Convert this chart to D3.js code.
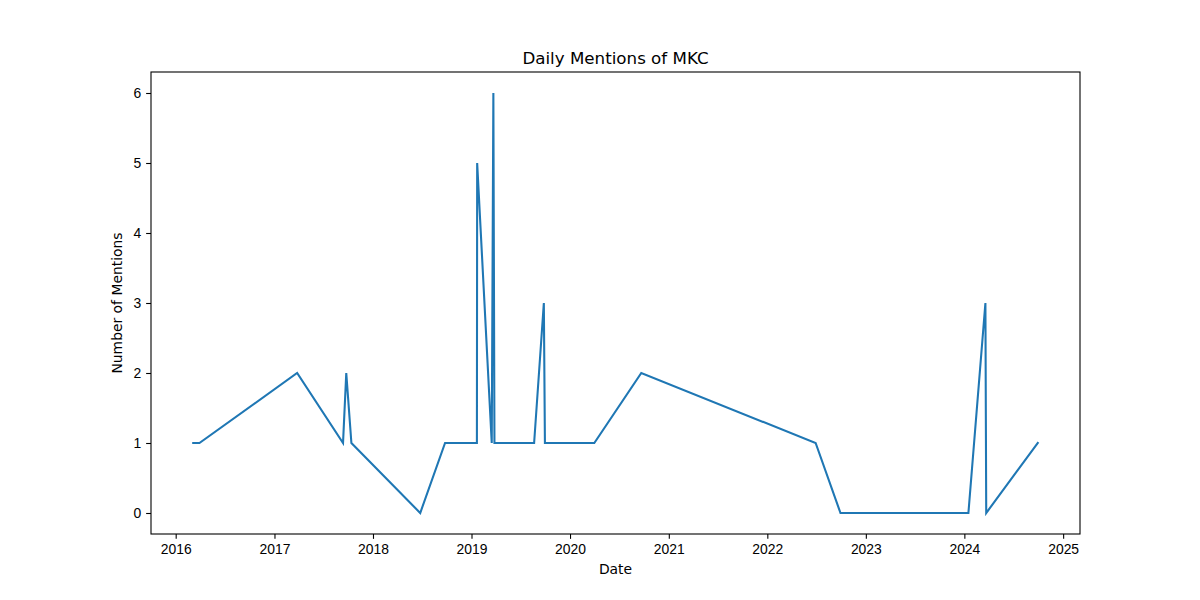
<!DOCTYPE html>
<html>
<head>
<meta charset="utf-8">
<script src="https://cdn.jsdelivr.net/npm/d3@7"></script>
<style>
body { margin: 0; background: #fff; }
svg { font-family: "DejaVu Sans", sans-serif; }
.axis text { font-size: 13.9px; fill: #000; }
.axis path, .axis line { stroke: #000; stroke-width: 1.1px; }
</style>
</head>
<body>
<svg id="chart" width="1200" height="600"></svg>
<script>
// dates and mention counts
const dates = [
  "2016-03-06", "2016-03-29", "2017-03-26", "2017-09-12", "2017-09-24",
  "2017-10-13", "2018-06-25", "2018-09-25", "2019-01-21", "2019-01-22",
  "2019-03-17", "2019-03-23", "2019-03-27", "2019-08-21", "2019-09-26",
  "2019-09-30", "2020-03-31", "2020-09-21", "2022-06-29", "2022-09-29",
  "2024-01-16", "2024-03-19", "2024-03-22", "2024-09-29"
];
const mentions = [
  1, 1, 2, 1, 2,
  1, 0, 1, 1, 5,
  1, 6, 1, 1, 3,
  1, 1, 2, 1, 0,
  0, 3, 0, 1
];
const yTicks = [0, 1, 2, 3, 4, 5, 6];
const xTickYears = [2016, 2017, 2018, 2019, 2020, 2021, 2022, 2023, 2024, 2025];

const parse = d3.timeParse("%Y-%m-%d");
const data = dates.map((d, i) => ({date: parse(d), value: mentions[i]}));

const mLeft = 151, mRight = 1080, mTop = 72, mBottom = 534;

// 5% padding like matplotlib
const xExt = d3.extent(data, d => d.date.getTime());
const xPad = (xExt[1] - xExt[0]) * 0.05;
const xScale = d3.scaleTime()
  .domain([new Date(xExt[0] - xPad), new Date(xExt[1] + xPad)])
  .range([mLeft, mRight]);

const yExt = d3.extent(mentions);
const yPad = (yExt[1] - yExt[0]) * 0.05;
const yScale = d3.scaleLinear()
  .domain([yExt[0] - yPad, yExt[1] + yPad])
  .range([mBottom, mTop]);

const svg = d3.select("#chart");

// line
const line = d3.line()
  .x(d => xScale(d.date))
  .y(d => yScale(d.value));

svg.append("path")
  .datum(data)
  .attr("fill", "none")
  .attr("stroke", "#1f77b4")
  .attr("stroke-width", 2.08)
  .attr("stroke-linejoin", "miter")
  .attr("stroke-linecap", "square")
  .attr("d", line);

// axes
const x_axis = d3.axisBottom(xScale)
  .tickValues(xTickYears.map(y => new Date(y, 0, 1)))
  .tickFormat(d3.timeFormat("%Y"))
  .tickSize(4.86).tickPadding(4.86).tickSizeOuter(0);
const y_axis = d3.axisLeft(yScale)
  .tickValues(yTicks)
  .tickFormat(d3.format("d"))
  .tickSize(4.86).tickPadding(4.86).tickSizeOuter(0);

const gx = svg.append("g").attr("class", "axis")
  .attr("transform", `translate(0,${mBottom})`)
  .call(x_axis);
gx.select(".domain").remove();

const gy = svg.append("g").attr("class", "axis")
  .attr("transform", `translate(${mLeft},0)`)
  .call(y_axis);
gy.select(".domain").remove();

// frame
svg.append("rect")
  .attr("x", mLeft).attr("y", mTop)
  .attr("width", mRight - mLeft).attr("height", mBottom - mTop)
  .attr("fill", "none").attr("stroke", "#000").attr("stroke-width", 1.1);

// labels
svg.append("text")
  .attr("x", (mLeft + mRight) / 2).attr("y", 574)
  .attr("text-anchor", "middle")
  .style("font-size", "13.9px")
  .text("Date");

svg.append("text")
  .attr("transform", `translate(122,${(mTop + mBottom) / 2}) rotate(-90)`)
  .attr("text-anchor", "middle")
  .style("font-size", "13.9px")
  .text("Number of Mentions");

// title
svg.append("text")
  .attr("x", (mLeft + mRight) / 2).attr("y", 64)
  .attr("text-anchor", "middle")
  .style("font-size", "16.7px")
  .text("Daily Mentions of MKC");
</script>
</body>
</html>
